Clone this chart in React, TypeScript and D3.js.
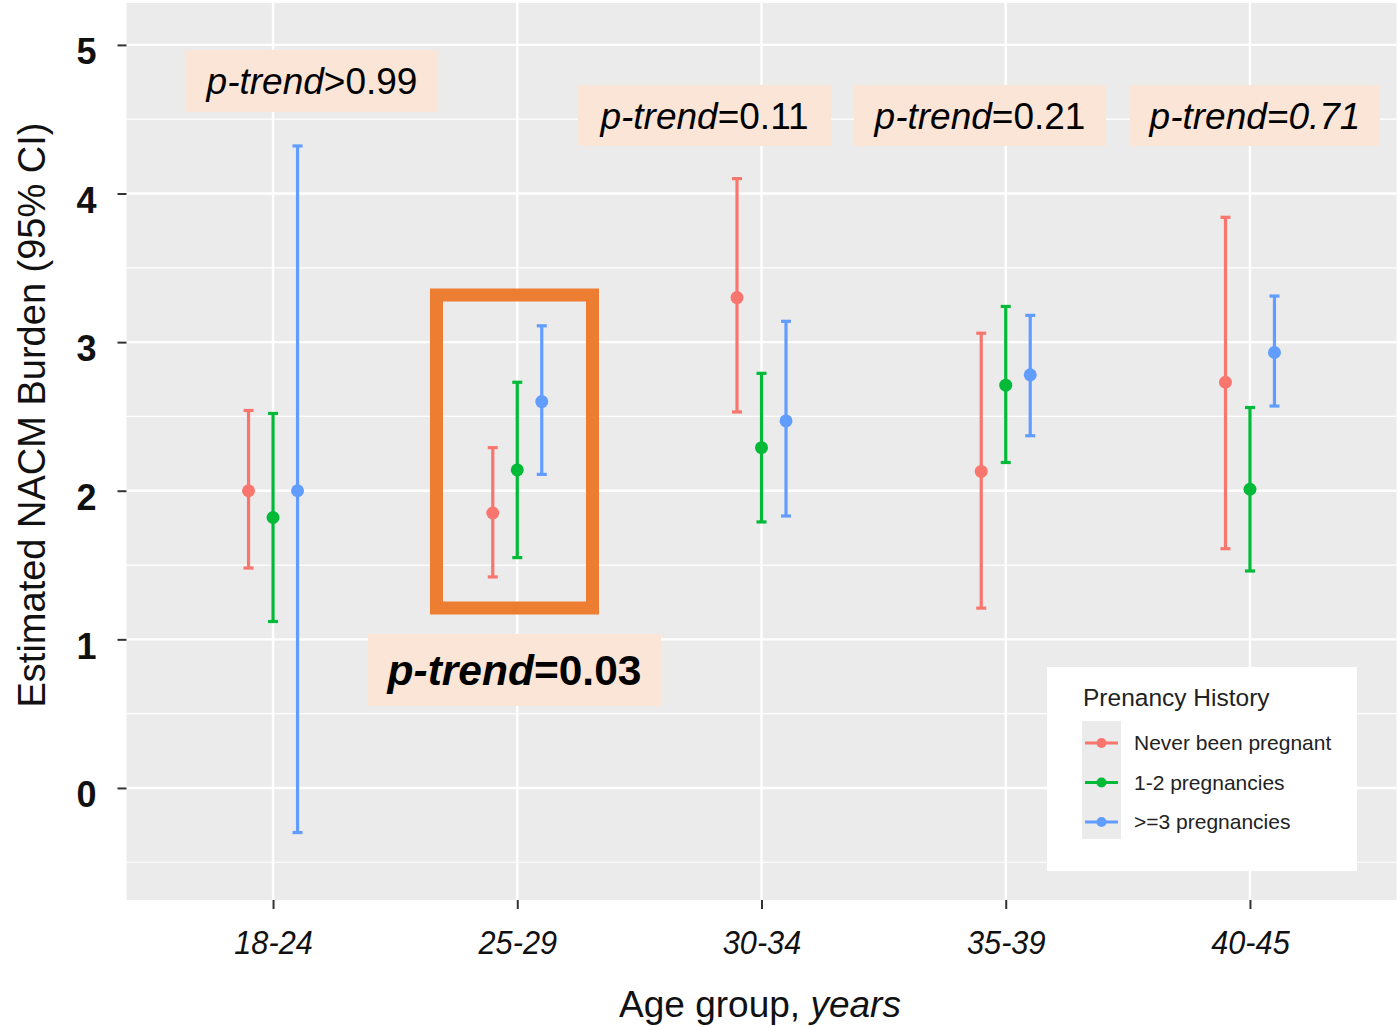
import React, { useEffect, useRef } from 'react';
import * as d3 from 'd3';

const ageGroups = ['18-24', '25-29', '30-34', '35-39', '40-45'];
const seriesNames = ['Never been pregnant', '1-2 pregnancies', '>=3 pregnancies'];
const seriesColors = ['#F8766D', '#00BA38', '#619CFF'];

// estimate, lower CI, upper CI per age group
const neverEst = [2.0, 1.85, 3.3, 2.13, 2.73];
const neverLo = [1.48, 1.42, 2.53, 1.21, 1.61];
const neverHi = [2.54, 2.29, 4.1, 3.06, 3.84];

const oneTwoEst = [1.82, 2.14, 2.29, 2.71, 2.01];
const oneTwoLo = [1.12, 1.55, 1.79, 2.19, 1.46];
const oneTwoHi = [2.52, 2.73, 2.79, 3.24, 2.56];

const threeEst = [2.0, 2.6, 2.47, 2.78, 2.93];
const threeLo = [-0.3, 2.11, 1.83, 2.37, 2.57];
const threeHi = [4.32, 3.11, 3.14, 3.18, 3.31];

const yTicks = [0, 1, 2, 3, 4, 5];
const pTrend = ['>0.99', '=0.03', '=0.11', '=0.21', '=0.71'];

const App = () => {
  const ref = useRef(null);

  useEffect(() => {
    d3.select(ref.current).selectAll('*').remove();

    const width = 1399;
    const height = 1027;
    const panel = { left: 126.5, right: 1396.5, top: 3, bottom: 900 };
    const font = '"Liberation Sans", Arial, sans-serif';

    const svg = d3.select(ref.current)
      .append('svg')
      .attr('width', width)
      .attr('height', height)
      .style('display', 'block')
      .style('position', 'fixed')
      .style('left', '0px')
      .style('top', '0px')
      .style('background', '#fff');

    const x = d3.scalePoint()
      .domain(ageGroups)
      .range([panel.left, panel.right])
      .padding(0.6);

    const dodge = d3.scalePoint()
      .domain(seriesNames)
      .range([-24.5, 24.5]);

    const y = d3.scaleLinear()
      .domain([-0.754, 5.282])
      .range([panel.bottom, panel.top]);

    // panel
    svg.append('rect')
      .attr('x', panel.left)
      .attr('y', panel.top)
      .attr('width', panel.right - panel.left)
      .attr('height', panel.bottom - panel.top)
      .attr('fill', '#ebebeb');

    // minor grid
    const minor = d3.range(-0.5, 5.5, 1);
    svg.append('g').selectAll('line')
      .data(minor).enter()
      .append('line')
      .attr('x1', panel.left).attr('x2', panel.right)
      .attr('y1', d => y(d)).attr('y2', d => y(d))
      .attr('stroke', '#fff').attr('stroke-width', 1.2);

    // major grid
    svg.append('g').selectAll('line')
      .data(yTicks).enter()
      .append('line')
      .attr('x1', panel.left).attr('x2', panel.right)
      .attr('y1', d => y(d)).attr('y2', d => y(d))
      .attr('stroke', '#fff').attr('stroke-width', 2.4);

    svg.append('g').selectAll('line')
      .data(ageGroups).enter()
      .append('line')
      .attr('x1', d => x(d)).attr('x2', d => x(d))
      .attr('y1', panel.top).attr('y2', panel.bottom)
      .attr('stroke', '#fff').attr('stroke-width', 2.4);

    // y axis
    const yAxis = svg.append('g')
      .attr('transform', `translate(${panel.left},0)`)
      .call(d3.axisLeft(y).tickValues(yTicks).tickSize(9).tickPadding(21).tickFormat(d3.format('d')));
    yAxis.select('.domain').remove();
    yAxis.selectAll('line').attr('stroke', '#333').attr('stroke-width', 2);
    yAxis.selectAll('text')
      .attr('dy', '0.52em')
      .attr('font-family', font)
      .attr('font-size', 36)
      .attr('font-weight', 700)
      .attr('fill', '#111');

    // x axis
    const xAxis = svg.append('g')
      .attr('transform', `translate(0,${panel.bottom})`)
      .call(d3.axisBottom(x).tickSize(9).tickPadding(22));
    xAxis.select('.domain').remove();
    xAxis.selectAll('line').attr('stroke', '#333').attr('stroke-width', 2);
    xAxis.selectAll('text')
      .attr('font-family', font)
      .attr('font-size', 33)
      .attr('font-style', 'italic')
      .attr('transform', 'scale(0.93,1)')
      .attr('fill', '#111');

    // axis titles
    svg.append('text')
      .attr('transform', 'translate(45,415) rotate(-90)')
      .attr('text-anchor', 'middle')
      .attr('font-family', font)
      .attr('font-size', 38)
      .attr('fill', '#111')
      .text('Estimated NACM Burden (95% CI)');

    const xt = svg.append('text')
      .attr('x', 760)
      .attr('y', 1017)
      .attr('text-anchor', 'middle')
      .attr('font-family', font)
      .attr('font-size', 37)
      .attr('fill', '#111');
    xt.append('tspan').text('Age group, ');
    xt.append('tspan').attr('font-style', 'italic').text('years');

    // error bars + points
    const series = [
      { name: seriesNames[0], color: seriesColors[0], est: neverEst, lo: neverLo, hi: neverHi },
      { name: seriesNames[1], color: seriesColors[1], est: oneTwoEst, lo: oneTwoLo, hi: oneTwoHi },
      { name: seriesNames[2], color: seriesColors[2], est: threeEst, lo: threeLo, hi: threeHi },
    ];

    series.forEach(s => {
      const rows = ageGroups.map((a, i) => ({ a, est: s.est[i], lo: s.lo[i], hi: s.hi[i] }));
      const g = svg.append('g');
      const cx = d => x(d.a) + dodge(s.name);
      g.selectAll('.bar').data(rows).enter().append('line')
        .attr('x1', cx).attr('x2', cx)
        .attr('y1', d => y(d.lo)).attr('y2', d => y(d.hi))
        .attr('stroke', s.color).attr('stroke-width', 3.2);
      ['lo', 'hi'].forEach(k => {
        g.selectAll('.cap-' + k).data(rows).enter().append('line')
          .attr('x1', d => cx(d) - 5).attr('x2', d => cx(d) + 5)
          .attr('y1', d => y(d[k])).attr('y2', d => y(d[k]))
          .attr('stroke', s.color).attr('stroke-width', 3.2);
      });
      g.selectAll('circle').data(rows).enter().append('circle')
        .attr('cx', cx).attr('cy', d => y(d.est))
        .attr('r', 6.5)
        .attr('fill', s.color);
    });

    // p-trend labels
    const boxes = [
      { x: 186, y: 50, w: 252, h: 62, size: 37, bold: false, italicAll: false },
      { x: 368, y: 634, w: 293, h: 72, size: 42.5, bold: true, italicAll: false },
      { x: 578, y: 85, w: 253, h: 61, size: 37, bold: false, italicAll: false },
      { x: 854, y: 85, w: 252, h: 61, size: 37, bold: false, italicAll: false },
      { x: 1130, y: 85, w: 250, h: 61, size: 37, bold: false, italicAll: true },
    ];
    boxes.forEach((b, i) => {
      svg.append('rect')
        .attr('x', b.x).attr('y', b.y).attr('width', b.w).attr('height', b.h)
        .attr('fill', '#fbe5d6');
      const t = svg.append('text')
        .attr('x', b.x + b.w / 2)
        .attr('y', b.y + b.h / 2 + b.size * 0.36)
        .attr('text-anchor', 'middle')
        .attr('font-family', font)
        .attr('font-size', b.size)
        .attr('font-weight', b.bold ? 700 : 400)
        .attr('fill', '#000');
      t.append('tspan').attr('font-style', 'italic').text('p-trend');
      t.append('tspan').attr('font-style', b.italicAll ? 'italic' : 'normal').text(pTrend[i]);
    });

    // highlight rectangle around 25-29
    svg.append('rect')
      .attr('x', 436.5).attr('y', 295)
      .attr('width', 156).attr('height', 313)
      .attr('fill', 'none')
      .attr('stroke', '#ed7d31')
      .attr('stroke-width', 13);

    // legend
    const lg = svg.append('g').attr('transform', 'translate(1047,667)');
    lg.append('rect').attr('width', 310).attr('height', 204).attr('fill', '#fff');
    lg.append('text')
      .attr('x', 36).attr('y', 39)
      .attr('font-family', font).attr('font-size', 24.5).attr('fill', '#222')
      .text('Prenancy History');
    lg.append('rect')
      .attr('x', 35).attr('y', 54).attr('width', 39).attr('height', 118)
      .attr('fill', '#ebebeb');
    series.forEach((s, i) => {
      const ly = 76 + i * 39.5;
      lg.append('line')
        .attr('x1', 38).attr('x2', 71).attr('y1', ly).attr('y2', ly)
        .attr('stroke', s.color).attr('stroke-width', 3);
      lg.append('circle').attr('cx', 54.5).attr('cy', ly).attr('r', 5).attr('fill', s.color);
      lg.append('text')
        .attr('x', 87).attr('y', ly + 7)
        .attr('font-family', font).attr('font-size', 21).attr('fill', '#222')
        .text(s.name);
    });
  }, []);

  return <div ref={ref}></div>;
};

export default App;
